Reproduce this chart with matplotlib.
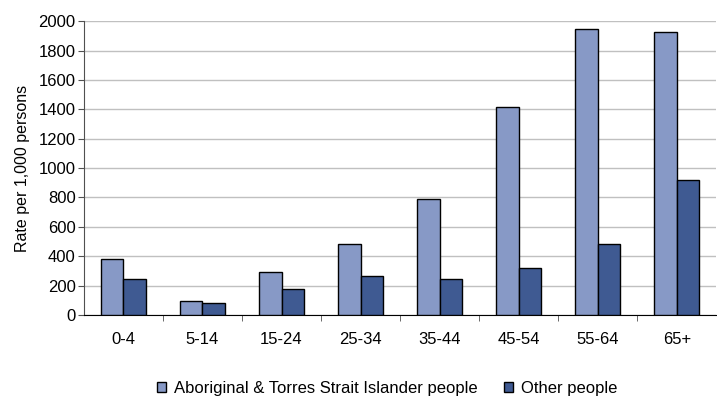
import matplotlib as mpl
mpl.use('Agg')
import matplotlib.pyplot as plt
import numpy as np

plt.rcParams['font.family'] = ['Liberation Sans', 'DejaVu Sans']

# age groups & rates per 1,000 persons
ages = ['0-4', '5-14', '15-24', '25-34', '35-44', '45-54', '55-64', '65+']
indigenous = [380, 95, 295, 485, 789, 1417, 1946, 1925]
other = [243, 84, 179, 263, 243, 318, 485, 918]

fig = plt.figure(figsize=(7.17, 3.99), dpi=100)
ax = fig.add_axes([0.117, 0.2105, 0.882, 0.7365])

x = np.arange(len(ages))
w = 0.285
ax.bar(x - w / 2, indigenous, w, color='#8799C6', edgecolor='black', linewidth=1,
       label='Aboriginal & Torres Strait Islander people', zorder=3)
ax.bar(x + w / 2, other, w, color='#3F5A92', edgecolor='black', linewidth=1,
       label='Other people', zorder=3)

# axes settings
ax.set_xlim(-0.5, len(ages) - 0.5)
ax.set_ylim(0, 2000)
ax.set_yticks(range(0, 2001, 200))
ax.yaxis.grid(True, color='#C0C0C0', linewidth=1)
ax.set_axisbelow(True)
for s in ['top', 'right']:
    ax.spines[s].set_visible(False)
ax.spines['left'].set_color('#505050')
ax.spines['bottom'].set_color('black')
ax.tick_params(axis='y', labelsize=12, length=4, color='#505050', pad=2)

ax.set_xticks(x)
ax.set_xticklabels(ages, fontsize=12)
ax.tick_params(axis='x', length=0, pad=12)
ax.set_xticks(np.arange(0.5, len(ages) - 0.5, 1), minor=True)
ax.tick_params(axis='x', which='minor', length=4, color='#505050')

ax.set_ylabel('Rate per 1,000 persons', fontsize=11.5, labelpad=6)

fig.legend(*ax.get_legend_handles_labels(), loc='center', bbox_to_anchor=(0.54, 0.027),
           ncol=2, frameon=False, fontsize=12, handlelength=0.55, handleheight=0.55,
           columnspacing=1.6, handletextpad=0.45, borderpad=0)

plt.savefig('out.png')
